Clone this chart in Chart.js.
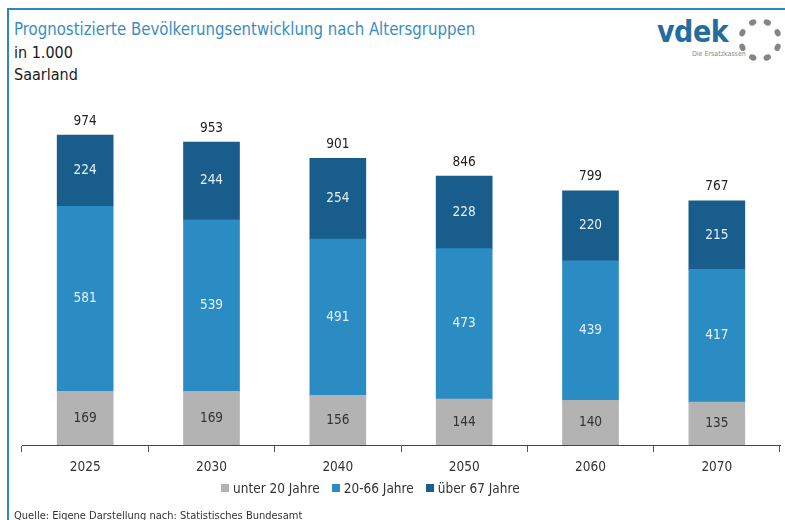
<!DOCTYPE html>
<html lang="de">
<head>
<meta charset="utf-8">
<title>Prognostizierte Bevölkerungsentwicklung nach Altersgruppen</title>
<script src="https://cdn.jsdelivr.net/npm/chart.js@4/dist/chart.umd.min.js"></script>
<style>
  html, body { margin: 0; padding: 0; background: #fff; }
  body { width: 785px; height: 520px; position: relative; overflow: hidden;
         font-family: "Liberation Sans Narrow", "DejaVu Sans Condensed", sans-serif; }
  #frame { position: absolute; left: 7px; top: 8px; width: 790px; height: 530px;
           border-top: 2px solid #2f87c0; border-left: 2px solid #2f87c0; }
  #title { position: absolute; left: 14px; top: 18px; font-size: 18px; color: #3a8dc2; white-space: nowrap;
           transform: scaleX(0.925); transform-origin: left center; }
  .sub { position: absolute; left: 14px; font-size: 16px; color: #1a1a1a; }
  #logo { position: absolute; left: 655px; top: 14px; }
  #logo .word { position: absolute; left: 2px; top: 0; font-family: "DejaVu Sans Condensed", sans-serif;
                font-weight: bold; font-size: 30px; color: #226d9d; letter-spacing: -0.5px; }
  #logo .claim { position: absolute; left: 37px; top: 36px; font-size: 7px; color: #888; white-space: nowrap; }
  #ring { position: absolute; left: 735px; top: 16px; }
  #chart { position: absolute; left: 0; top: 0; }
  #legend { position: absolute; left: 221px; top: 480px; display: flex; font-size: 13.5px; color: #333; white-space: nowrap; }
  #legend .item { display: flex; align-items: center; margin-right: 12px; }
  #legend .box { width: 8px; height: 8px; margin-right: 4px; }
  #source { position: absolute; left: 14px; top: 509px; font-size: 11px; color: #333; white-space: nowrap; }
</style>
</head>
<body>
<div id="frame"></div>
<div id="title">Prognostizierte Bevölkerungsentwicklung nach Altersgruppen</div>
<div class="sub" style="top:43px">in 1.000</div>
<div class="sub" style="top:65px">Saarland</div>
<div id="logo"><div class="word">vdek</div><div class="claim">Die Ersatzkassen</div></div>
<svg id="ring" width="50" height="48" viewBox="735 16 50 48">
  <g fill="#858585">
    <ellipse cx="760" cy="21" rx="3.8" ry="2.9" transform="rotate(22.5 760 40)"/>
    <ellipse cx="760" cy="21" rx="3.8" ry="2.9" transform="rotate(67.5 760 40)"/>
    <ellipse cx="760" cy="21" rx="3.8" ry="2.9" transform="rotate(112.5 760 40)"/>
    <ellipse cx="760" cy="21" rx="3.8" ry="2.9" transform="rotate(157.5 760 40)"/>
    <ellipse cx="760" cy="21" rx="3.8" ry="2.9" transform="rotate(202.5 760 40)"/>
    <ellipse cx="760" cy="21" rx="3.8" ry="2.9" transform="rotate(247.5 760 40)"/>
    <ellipse cx="760" cy="21" rx="3.8" ry="2.9" transform="rotate(292.5 760 40)"/>
    <ellipse cx="760" cy="21" rx="3.8" ry="2.9" transform="rotate(337.5 760 40)"/>
  </g>
</svg>
<canvas id="chart" width="785" height="520"></canvas>
<div id="legend"></div>
<div id="source">Quelle: Eigene Darstellung nach: Statistisches Bundesamt</div>

<script>
/* Daten (in 1.000) */
const years = ['2025', '2030', '2040', '2050', '2060', '2070'];
const unter20 = [169, 169, 156, 144, 140, 135];
const mitte20bis66 = [581, 539, 491, 473, 439, 417];
const ueber67 = [224, 244, 254, 228, 220, 215];
const totals = [974, 953, 901, 846, 799, 767];
const seriesLabels = ['unter 20 Jahre', '20-66 Jahre', 'über 67 Jahre'];
const seriesColors = ['#b3b3b3', '#2b8cc4', '#185d8b'];

const FONT = '"Liberation Sans Narrow", "DejaVu Sans Condensed", sans-serif';

/* ── Werte in den Segmenten + Summe oben ── */
const valueLabels = {
  id: 'valueLabels',
  afterDatasetsDraw(chart) {
    const ctx = chart.ctx;
    ctx.save();
    ctx.textAlign = 'center';
    ctx.textBaseline = 'middle';
    ctx.font = '13.5px ' + FONT;
    chart.data.datasets.forEach((ds, di) => {
      chart.getDatasetMeta(di).data.forEach((bar, i) => {
        const p = bar.getProps(['x', 'y', 'base'], true);
        ctx.fillStyle = di === 0 ? '#333' : '#e6f1f9';
        ctx.fillText(ds.data[i], p.x, (p.y + p.base) / 2);
      });
    });
    const top = chart.getDatasetMeta(chart.data.datasets.length - 1);
    ctx.fillStyle = '#222';
    top.data.forEach((bar, i) => ctx.fillText(totals[i], bar.x, bar.y - 14));
    ctx.restore();
  }
};

const chart = new Chart(document.getElementById('chart'), {
  type: 'bar',
  data: {
    labels: years,
    datasets: [unter20, mitte20bis66, ueber67].map((d, i) => ({
      label: seriesLabels[i],
      data: d,
      backgroundColor: seriesColors[i],
      borderWidth: 0,
      barThickness: 56
    }))
  },
  options: {
    responsive: false,
    animation: false,
    layout: { padding: { top: 95, left: 22, right: 5, bottom: 0 } },
    plugins: { legend: { display: false }, tooltip: { enabled: false } },
    scales: {
      x: {
        stacked: true,
        grid: { offset: true, drawOnChartArea: false, tickLength: 7, color: '#555' },
        border: { color: '#444', width: 1 },
        ticks: { color: '#333', padding: 7, font: { family: FONT, size: 13.5 } },
        afterFit: s => { s.height = 75; }
      },
      y: { stacked: true, display: false, min: 0, max: 1100 }
    }
  },
  plugins: [valueLabels]
});

/* ── Legende ── */
const legend = document.getElementById('legend');
chart.data.datasets.forEach(ds => {
  const item = document.createElement('div');
  item.className = 'item';
  item.innerHTML = '<span class="box" style="background:' + ds.backgroundColor + '"></span>' + ds.label;
  legend.appendChild(item);
});
</script>
</body>
</html>
